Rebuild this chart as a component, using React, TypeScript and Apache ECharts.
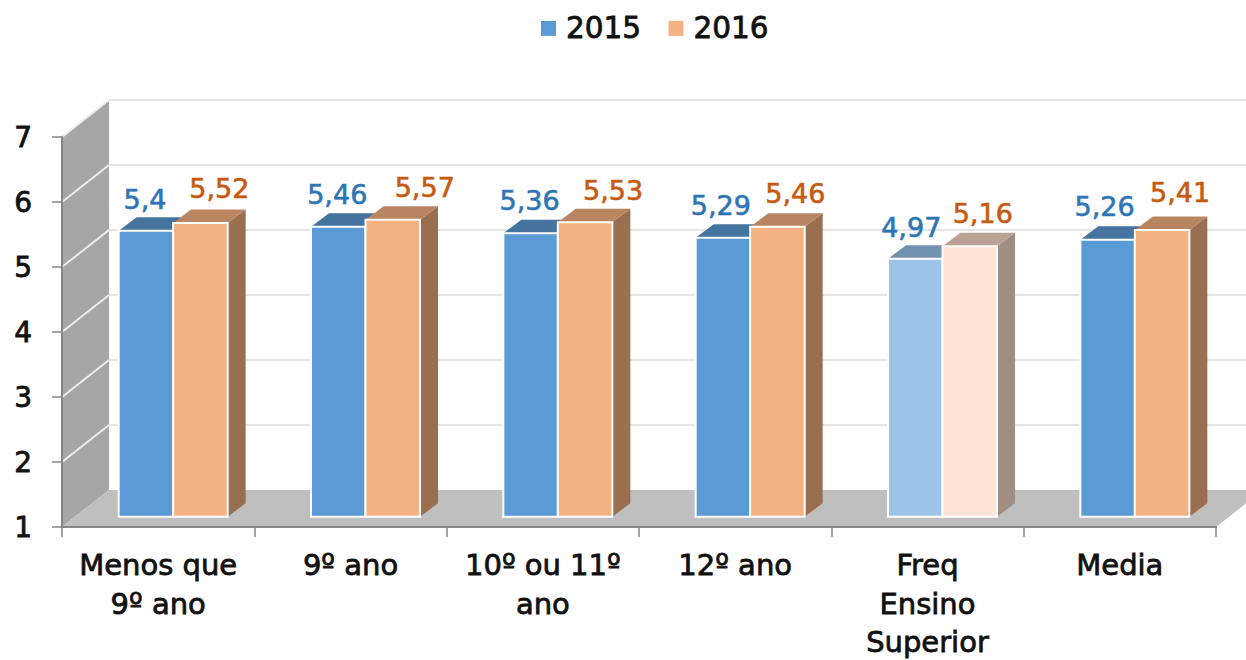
import React, { useEffect, useRef } from "react";
import * as echarts from "echarts";

const categories = ["Menos que\n9º ano", "9º ano", "10º ou 11º\nano", "12º ano", "Freq\nEnsino\nSuperior", "Media"];
const values2015 = [5.4, 5.46, 5.36, 5.29, 4.97, 5.26];
const values2016 = [5.52, 5.57, 5.53, 5.46, 5.16, 5.41];
const yTicks = [1, 2, 3, 4, 5, 6, 7];
const fadedIndex = 4;

// layout of the imitation 3D box and bars (pixels)
const WALL_DX = 47;
const WALL_DY = -37;
const BAR_W = 54.5;
const GROUP_DX = 15;
const FRONT_DY = -10.3;
const SIDE_DX = 18;
const SIDE_DY = -13.5;
const LABEL_DX_2015 = [-1, -1, -1, -2, -4, -3];
const LABEL_DX_2016 = [19, 32, 28, 18, 13, 18];
const LABEL_DY_2015 = [-31, -32, -33, -32, -31, -33];
const LABEL_DY_2016 = [-34, -32, -32, -33, -33, -38];

const FONT = "'DejaVu Sans'";

const palette = {
  2015: {
    front: "#5B9BD5", top: "#44749F", side: "#3E6A92",
    fadedFront: "#9DC3E6", fadedTop: "#7192B1", fadedSide: "#7192B1", label: "#2E75B6",
  },
  2016: {
    front: "#F4B183", top: "#B98560", side: "#9A6F50",
    fadedFront: "#FDE4D6", fadedTop: "#B9A294", fadedSide: "#A08E83", label: "#C55A11",
  },
};

function poly(points: number[][], fill: string) {
  return { type: "polygon", shape: { points }, style: { fill, stroke: "none" }, silent: true };
}

function backdrop(params: any, api: any) {
  const c = params.coordSys;
  const x0 = c.x;
  const x1 = c.x + c.width;
  const yBase = api.coord([0, 1])[1];
  const yTop = api.coord([0, 7])[1];
  const children: any[] = [
    poly([[x0, yTop], [x0 + WALL_DX, yTop + WALL_DY], [x0 + WALL_DX, yBase + WALL_DY], [x0, yBase]], "#A6A6A6"),
    poly([[x0, yBase], [x0 + WALL_DX, yBase + WALL_DY], [x1 + WALL_DX, yBase + WALL_DY], [x1, yBase]], "#BFBFBF"),
  ];
  yTicks.slice(1).forEach((t) => {
    const y = api.coord([0, t])[1];
    children.push({
      type: "line",
      shape: { x1: x0, y1: y, x2: x0 + WALL_DX, y2: y + WALL_DY },
      style: { stroke: "#EDEDED", lineWidth: 2 },
      silent: true,
    });
    children.push({
      type: "line",
      shape: { x1: x0 + WALL_DX, y1: y + WALL_DY, x2: x1 + WALL_DX, y2: y + WALL_DY },
      style: { stroke: "#E4E4E4", lineWidth: 2 },
      silent: true,
    });
  });
  return { type: "group", children };
}

function barRenderer(year: 2015 | 2016) {
  const p = palette[year];
  return (_params: any, api: any) => {
    const i = api.value(0);
    const v = api.value(1);
    const faded = i === fadedIndex;
    const cx = api.coord([i, 1])[0] + GROUP_DX;
    const yTop = api.coord([i, v])[1] + FRONT_DY;
    const yBot = api.coord([i, 1])[1] + FRONT_DY;
    const left = year === 2015 ? cx - BAR_W : cx;
    const right = left + BAR_W;
    const dxL = (year === 2015 ? LABEL_DX_2015 : LABEL_DX_2016)[i];
    const dyL = (year === 2015 ? LABEL_DY_2015 : LABEL_DY_2016)[i];
    return {
      type: "group",
      children: [
        poly([[right, yTop], [right + SIDE_DX, yTop + SIDE_DY], [right + SIDE_DX, yBot + SIDE_DY], [right, yBot]], faded ? p.fadedSide : p.side),
        poly([[left, yTop], [left + SIDE_DX, yTop + SIDE_DY], [right + SIDE_DX, yTop + SIDE_DY], [right, yTop]], faded ? p.fadedTop : p.top),
        {
          type: "rect",
          shape: { x: left, y: yTop, width: BAR_W, height: yBot - yTop },
          style: { fill: faded ? p.fadedFront : p.front, stroke: "#FFFFFF", lineWidth: 2 },
        },
        {
          type: "text",
          x: (left + right) / 2 + dxL,
          y: yTop + dyL,
          style: {
            text: String(v).replace(".", ","),
            fill: p.label,
            stroke: p.label,
            lineWidth: 0.6,
            font: `27px ${FONT}`,
            align: "center",
            verticalAlign: "middle",
          },
        },
      ],
    };
  };
}

const textStyleDark = {
  color: "#111111",
  fontFamily: FONT,
  fontSize: 28,
  textBorderColor: "#111111",
  textBorderWidth: 0.8,
};

export default function App() {
  const ref = useRef<HTMLDivElement>(null);
  useEffect(() => {
    const chart = echarts.init(ref.current!, undefined, { renderer: "svg" });
    chart.setOption({
      animation: false,
      backgroundColor: "#FFFFFF",
      grid: { left: 62, right: 30, top: 137, height: 390, containLabel: false, outerBoundsMode: "none" },
      legend: {
        left: 536,
        top: 8,
        itemWidth: 15,
        itemHeight: 15,
        itemGap: 27,
        selectedMode: false,
        textStyle: { ...textStyleDark, fontSize: 29.5, padding: [0, 0, 0, 5] },
        data: [
          { name: "2015", icon: "rect", itemStyle: { color: palette[2015].front } },
          { name: "2016", icon: "rect", itemStyle: { color: palette[2016].front } },
        ],
      },
      xAxis: {
        type: "category",
        data: categories,
        z: 5,
        axisLine: { lineStyle: { color: "#868686", width: 2 } },
        axisTick: { show: true, length: 10, lineStyle: { color: "#868686", width: 1.5 } },
        axisLabel: { ...textStyleDark, fontSize: 29, interval: 0, margin: 19, lineHeight: 38.5 },
      },
      yAxis: {
        type: "value",
        min: 1,
        max: 7,
        interval: 1,
        z: 5,
        splitLine: { show: false },
        axisLine: { show: true, lineStyle: { color: "#868686", width: 2 } },
        axisTick: { show: true, length: 10, lineStyle: { color: "#868686", width: 1.5 } },
        axisLabel: { ...textStyleDark, margin: 30 },
      },
      series: [
        { type: "custom", name: "box", z: 1, silent: true, data: [[0, 1]], renderItem: backdrop, encode: { x: 0, y: 1 } },
        { type: "custom", name: "2015", z: 2, data: values2015.map((v, i) => [i, v]), renderItem: barRenderer(2015), encode: { x: 0, y: 1 } },
        { type: "custom", name: "2016", z: 3, data: values2016.map((v, i) => [i, v]), renderItem: barRenderer(2016), encode: { x: 0, y: 1 } },
      ],
    });
    return () => chart.dispose();
  }, []);
  return <div ref={ref} style={{ position: "absolute", left: 0, top: 0, width: 1246, height: 660 }} />;
}
